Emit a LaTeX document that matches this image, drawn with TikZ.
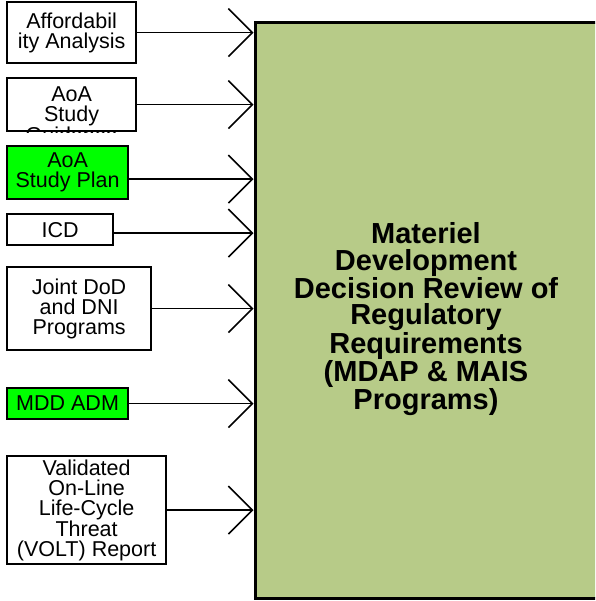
\documentclass[tikz,border=0pt]{standalone}
\usepackage{fontspec}
\setmainfont{Liberation Sans}
\usetikzlibrary{arrows.meta}
\definecolor{mainfill}{HTML}{B7CB88}
\definecolor{hotgreen}{HTML}{00FF00}
\tikzset{
  boxfont/.style={font=\fontsize{21.5}{20}\selectfont},
  inbox/.style={draw=black, line width=2.2pt, rectangle, inner sep=0pt, anchor=north west,
    align=center, boxfont},
  greenbox/.style={inbox, fill=hotgreen},
  conn/.style={line width=1.6pt, -{Straight Barb[length=24pt,width=48pt,line width=1.6pt]}},
  mainbox/.style={draw=black, line width=3pt, fill=mainfill, rectangle, inner sep=0pt,
    minimum width=344pt, minimum height=575pt}
}
\begin{document}
\begin{tikzpicture}[x=1pt,y=1pt]
\useasboundingbox (0,0) rectangle (595,-601);
\clip (0,0) rectangle (595,-601);
\node[mainbox] (main) at (427,-310.5) {};
\node (maintext) at (426,-319) [align=center, font=\fontsize{29}{26.5}\bfseries\selectfont]
  {Materiel\\Development\\Decision Review of\\Regulatory\\Requirements\\(MDAP \& MAIS\\Programs)};

\node[inbox, minimum width=129pt, minimum height=61pt] (aff) at (6,-1) {Affordabil\\ity Analysis};

\node[inbox, minimum width=129pt, minimum height=53pt] (guid) at (6,-77) {};
\begin{scope}
  \clip (guid.north west) rectangle (guid.south east);
  \node[align=center, boxfont, anchor=north] (guidtext)
    at ([yshift=-6pt]guid.north) {AoA\\Study\\Guidance};
\end{scope}
\node[inbox, minimum width=129pt, minimum height=53pt] at (6,-77) {};

\node[greenbox, minimum width=121pt, minimum height=53pt] (plan) at (6,-145) {AoA\\Study Plan};
\node[inbox, minimum width=106pt, minimum height=31pt] (icd) at (6,-213) {ICD};
\node[inbox, minimum width=144pt, minimum height=83pt] (joint) at (6,-266) {Joint DoD\\and DNI\\Programs};
\node[greenbox, minimum width=121pt, minimum height=31pt] (mdd) at (6,-387) {MDD ADM};
\node[inbox, minimum width=159pt, minimum height=108pt] (volt) at (6,-455)
  {Validated\\On-Line\\Life-Cycle\\Threat\\(VOLT) Report};

\draw[conn] (aff.east) -- (aff.east -| main.west);
\draw[conn] (guid.east) -- (guid.east -| main.west);
\draw[conn] ([yshift=-6.5pt]plan.east) -- ([yshift=-6.5pt]plan.east -| main.west);
\draw[conn] ([yshift=-3.5pt]icd.east) -- ([yshift=-3.5pt]icd.east -| main.west);
\draw[conn] (joint.east) -- (joint.east -| main.west);
\draw[conn] (mdd.east) -- (mdd.east -| main.west);
\draw[conn] (volt.east) -- (volt.east -| main.west);
\end{tikzpicture}
\end{document}
